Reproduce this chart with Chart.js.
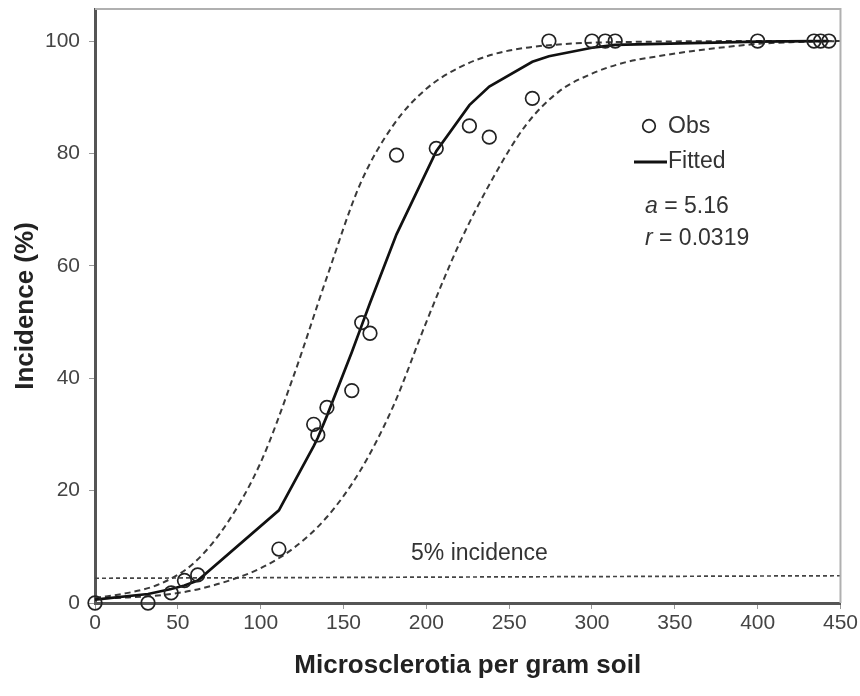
<!DOCTYPE html>
<html>
<head>
<meta charset="utf-8">
<script src="https://cdn.jsdelivr.net/npm/chart.js@4.4.1/dist/chart.umd.min.js"></script>
<style>
  html, body { margin: 0; padding: 0; background: #fff; }
  canvas { display: block; }
</style>
</head>
<body>
<canvas id="chart" width="860" height="696"></canvas>
<script>
// observed incidence
const obsX = [0, 32, 46, 54, 62, 111, 132, 134.5, 140, 155, 161, 166, 182, 206, 226, 238, 264, 274, 300, 308, 314, 400, 434, 438, 443]
const obsY = [0, 0, 1.8, 4, 5, 9.6, 31.8, 29.9, 34.8, 37.8, 49.9, 48, 79.7, 80.9, 84.9, 82.9, 89.8, 100, 100, 100, 100, 100, 100, 100, 100]

// fitted curve, read at the observed x values
const fittedY = [0.6, 1.6, 2.5, 3.1, 4, 16.5, 27.9, 29.4, 33.3, 44.6, 49.4, 53.4, 65.6, 80.4, 88.6, 91.9, 96.3, 97.3, 98.8, 99.1, 99.3, 99.9, 100, 100, 100]

// dashed bands
const upperX = [0, 20, 40, 60, 80, 100, 120, 140, 160, 180, 200, 220, 240, 260, 280, 300, 340, 400, 450]
const upperY = [0.9, 1.8, 3.5, 7.2, 14.3, 25, 40.5, 58, 74.5, 85, 91.5, 95.3, 97.6, 98.8, 99.4, 99.7, 99.9, 100, 100]
const lowerX = [0, 20, 40, 60, 80, 100, 120, 140, 160, 180, 200, 220, 240, 260, 280, 300, 320, 340, 360, 380, 400, 420, 450]
const lowerY = [0.8, 1.0, 1.4, 2.3, 3.9, 6.2, 9.8, 15.3, 23.5, 35, 50, 64, 75.5, 85, 91, 94.2, 96.2, 97.3, 98.2, 98.9, 99.5, 99.8, 100]

// 5% incidence reference
const refX = [0, 450]
const refY = [4.4, 4.85]

const xTicks = [0, 50, 100, 150, 200, 250, 300, 350, 400, 450]
const yTicks = [0, 20, 40, 60, 80, 100]

const pts = (xs, ys) => xs.map((x, i) => ({ x: x, y: ys[i] }))

const FONT = "'Liberation Sans', Arial, sans-serif"

const frame = {
  id: "frame",
  afterDraw(chart) {
    const { ctx, chartArea: a } = chart
    ctx.save()
    ctx.strokeStyle = "#b0b0b0"
    ctx.lineWidth = 2
    ctx.beginPath()
    ctx.moveTo(a.left, a.top)
    ctx.lineTo(a.right, a.top)
    ctx.lineTo(a.right, a.bottom)
    ctx.stroke()

    // legend and notes
    ctx.fillStyle = "#333"
    ctx.font = `23px ${FONT}`
    ctx.textBaseline = "middle"
    ctx.textAlign = "left"

    ctx.strokeStyle = "#222"
    ctx.lineWidth = 1.7
    ctx.beginPath()
    ctx.arc(649, 126, 6.3, 0, Math.PI * 2)
    ctx.stroke()
    ctx.fillText("Obs", 668, 127)

    ctx.strokeStyle = "#111"
    ctx.lineWidth = 3
    ctx.beginPath()
    ctx.moveTo(634, 162)
    ctx.lineTo(667, 162)
    ctx.stroke()
    ctx.fillText("Fitted", 668, 162)

    ctx.font = `italic 23px ${FONT}`
    ctx.fillText("a", 645, 207)
    let w = ctx.measureText("a").width
    ctx.font = `23px ${FONT}`
    ctx.fillText(" = 5.16", 645 + w, 207)

    ctx.font = `italic 23px ${FONT}`
    ctx.fillText("r", 645, 239)
    w = ctx.measureText("r").width
    ctx.font = `23px ${FONT}`
    ctx.fillText(" = 0.0319", 645 + w, 239)

    ctx.fillText("5% incidence", 411, 554)
    ctx.restore()
  },
}

new Chart(document.getElementById("chart"), {
  type: "scatter",
  data: {
    datasets: [
      {
        label: "Obs",
        data: pts(obsX, obsY),
        showLine: false,
        pointStyle: "circle",
        pointRadius: 6.8,
        pointBorderWidth: 1.7,
        borderColor: "#222",
        backgroundColor: "rgba(0,0,0,0)",
        order: 0,
      },
      {
        label: "Fitted",
        data: pts(obsX, fittedY),
        showLine: true,
        borderColor: "#111",
        borderWidth: 2.7,
        pointRadius: 0,
        order: 1,
      },
      {
        label: "Upper",
        data: pts(upperX, upperY),
        showLine: true,
        cubicInterpolationMode: "monotone",
        borderColor: "#3a3a3a",
        borderWidth: 2,
        borderDash: [6, 4],
        pointRadius: 0,
        order: 2,
      },
      {
        label: "Lower",
        data: pts(lowerX, lowerY),
        showLine: true,
        cubicInterpolationMode: "monotone",
        borderColor: "#3a3a3a",
        borderWidth: 2,
        borderDash: [6, 4],
        pointRadius: 0,
        order: 3,
      },
      {
        label: "5% incidence",
        data: pts(refX, refY),
        showLine: true,
        borderColor: "#444",
        borderWidth: 1.7,
        borderDash: [4, 3],
        pointRadius: 0,
        order: 4,
      },
    ],
  },
  options: {
    responsive: false,
    animation: false,
    clip: false,
    layout: { padding: { top: 9, right: 19, left: 0, bottom: 0 } },
    scales: {
      x: {
        type: "linear",
        min: 0,
        max: 450,
        afterFit: (scale) => { scale.height = 93 },
        afterBuildTicks: (scale) => { scale.ticks = xTicks.map((v) => ({ value: v })) },
        border: { color: "#555", width: 3 },
        grid: { drawOnChartArea: false, drawTicks: true, tickLength: 6, color: "#999" },
        ticks: { color: "#444", font: { family: FONT, size: 21 }, padding: 2, maxRotation: 0 },
        title: {
          display: true,
          text: "Microsclerotia per gram soil",
          color: "#222",
          font: { family: FONT, size: 26, weight: "bold" },
          padding: { bottom: 15 },
        },
      },
      y: {
        min: 0,
        max: 105.7,
        afterFit: (scale) => {
          scale.width = 95
          scale.paddingTop = 0
          scale.paddingBottom = 0
        },
        afterBuildTicks: (scale) => { scale.ticks = yTicks.map((v) => ({ value: v })) },
        border: { color: "#555", width: 3 },
        grid: { drawOnChartArea: false, drawTicks: true, tickLength: 6, color: "#999" },
        ticks: { color: "#444", font: { family: FONT, size: 21 }, padding: 9 },
        title: {
          display: true,
          text: "Incidence (%)",
          color: "#222",
          font: { family: FONT, size: 26, weight: "bold" },
          padding: { top: 10 },
        },
      },
    },
    plugins: {
      legend: { display: false },
      tooltip: { enabled: false },
    },
  },
  plugins: [frame],
})
</script>
</body>
</html>
